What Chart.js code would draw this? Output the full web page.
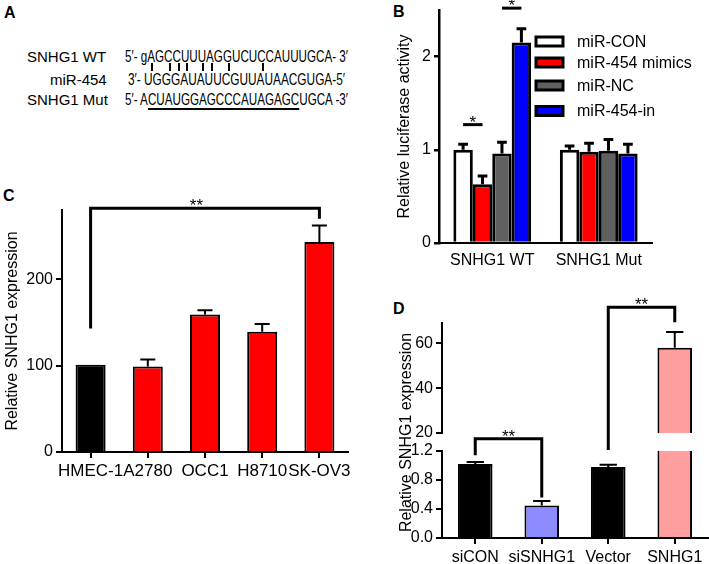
<!DOCTYPE html>
<html>
<head>
<meta charset="utf-8">
<script src="https://cdn.jsdelivr.net/npm/chart.js@4.4.1/dist/chart.umd.min.js"></script>
<style>
  html, body { margin: 0; padding: 0; background: #fff; }
  body { width: 709px; height: 564px; position: relative; overflow: hidden; font-family: "Liberation Sans", Arial, sans-serif; color: #000; }
  canvas { position: absolute; }
  .tag { position: absolute; font-weight: bold; font-size: 16px; line-height: 20px; }
  .lab { position: absolute; font-size: 15px; line-height: 20px; white-space: nowrap; }
  .seq { position: absolute; font-size: 16px; line-height: 20px; white-space: nowrap; transform-origin: 0 50%; }
  .pair { position: absolute; width: 2px; height: 8px; top: 63px; background: #000; }
  .mut { text-decoration: underline; text-decoration-thickness: 1.5px; text-underline-offset: 3px; }
</style>
</head>
<body>
<div class="tag" style="left:4px;top:3px">A</div>
<div class="tag" style="left:393px;top:2px">B</div>
<div class="tag" style="left:3px;top:186px">C</div>
<div class="tag" style="left:393px;top:299px">D</div>

<!-- panel A: sequence alignment -->
<div class="lab" style="left:27px;top:47px">SNHG1 WT</div>
<div class="lab" style="left:50px;top:70px">miR-454</div>
<div class="lab" style="left:27px;top:90px">SNHG1 Mut</div>
<div class="seq" id="seq1" style="left:125px;top:47px">5′- gAGCCUUUAGGUCUCCAUUUGCA- 3′</div>
<div class="seq" id="seq2" style="left:128px;top:70px">3′- UGGGAUAUUCGUUAUAACGUGA-5′</div>
<div class="seq" id="seq3" style="left:125px;top:90px">5′- A<span class="mut">CUAUGGAGCCCAUAGAGC</span>UGCA -3′</div>
<div class="pair" style="left:151px"></div>
<div class="pair" style="left:169px"></div>
<div class="pair" style="left:178px"></div>
<div class="pair" style="left:186px"></div>
<div class="pair" style="left:202px"></div>
<div class="pair" style="left:211px"></div>
<div class="pair" style="left:228px"></div>
<div class="pair" style="left:262px"></div>

<canvas id="cB" width="349" height="280" style="left:360px;top:0px"></canvas>
<canvas id="cC" width="360" height="300" style="left:0px;top:180px"></canvas>
<canvas id="cDlow" width="349" height="284" style="left:360px;top:280px"></canvas>
<canvas id="cDhigh" width="349" height="284" style="left:360px;top:280px"></canvas>

<script>
// panel B: luciferase reporter
const bGroups = ['SNHG1 WT', 'SNHG1 Mut'];
const bSeries = ['miR-CON', 'miR-454 mimics', 'miR-NC', 'miR-454-in'];
const bColors = ['#ffffff', '#ff0000', '#606060', '#0000ff'];
const bMeans = [[1.00, 1.00], [0.63, 0.98], [0.96, 0.99], [2.15, 0.96]];
const bErrs = [[0.06, 0.04], [0.09, 0.09], [0.12, 0.12], [0.15, 0.10]];
const bTicks = [0, 1, 2];
const bSig = [
  { group: 0, from: 0, to: 1, y: 1.27, text: '*' },
  { group: 0, from: 2, to: 3, y: 2.52, text: '*' }
];

// panel C: cell lines
const cLines = ['HMEC-1', 'A2780', 'OCC1', 'H8710', 'SK-OV3'];
const cColors = ['#000000', '#ff0000', '#ff0000', '#ff0000', '#ff0000'];
const cMeans = [101, 99, 159, 139, 243];
const cErrs = [0, 8, 5, 9, 19];
const cTicks = [0, 100, 200];
const cSig = [{ from: 0, to: 4, y: 282, left: 143, right: 270, text: '**', at: 1.85 }];

// panel D: knockdown / overexpression, broken axis
const dGroups = ['siCON', 'siSNHG1', 'Vector', 'SNHG1'];
const dColors = ['#000000', '#8c8cff', '#000000', '#ff9e9e'];
const dMeans = [1.02, 0.45, 0.98, 58];
const dErrs = [0.03, 0.06, 0.03, 7];
const dLowTicks = [0, 0.4, 0.8, 1.2];
const dHighTicks = [20, 40, 60];
const dLowSig = [{ from: 0, to: 1, y: 1.37, left: 1.14, right: 0.56, text: '**' }];
const dHighSig = [{ from: 2, to: 3, y: 76, left: 12.4, right: 69.3, text: '**' }];

const FONT = '"Liberation Sans", Arial, sans-serif';
Chart.defaults.font.family = FONT;
Chart.defaults.font.size = 16;
Chart.defaults.color = '#000';

// squeeze the sequences to the narrow look of the figure
[['seq1', 223], ['seq2', 217], ['seq3', 223]].forEach(([id, w]) => {
  const el = document.getElementById(id);
  el.style.transform = 'scaleX(' + (w / el.getBoundingClientRect().width) + ')';
});

function yAxis(min, max, ticks, width, extra) {
  extra = extra || {};
  const lw = extra.lineWidth || 2;
  const ax = {
    min: min, max: max,
    afterBuildTicks: s => { s.ticks = ticks.map(v => ({ value: v })); },
    afterFit: s => { s.width = width; s.paddingTop = 0; s.paddingBottom = 0; },
    border: { color: '#000', width: lw },
    grid: { drawOnChartArea: false, color: '#000', lineWidth: lw, tickLength: extra.tickLength || 6 },
    ticks: { color: '#000', padding: 3, font: { size: 16 } },
    title: extra.title || { display: false }
  };
  if (extra.format) ax.ticks.callback = extra.format;
  return ax;
}

function xAxis(height, tickLen, pad, size) {
  return {
    offset: true,
    afterFit: s => { s.height = height; s.paddingLeft = 0; s.paddingRight = 0; },
    border: { color: '#000', width: 2 },
    grid: { display: tickLen > 0, offset: false, drawOnChartArea: false, drawTicks: tickLen > 0, tickLength: tickLen, color: '#000', lineWidth: 2 },
    ticks: { color: '#000', padding: pad, font: { size: size || 16 }, maxRotation: 0, minRotation: 0, autoSkip: false }
  };
}

// one-sided error bars on top of each bar
function errorBars(lineWidth) {
  return {
    id: 'errorBars',
    afterDatasetsDraw(chart) {
      const { ctx, chartArea: a } = chart;
      ctx.save();
      ctx.beginPath();
      ctx.rect(a.left, a.top, a.right - a.left, a.bottom - a.top);
      ctx.clip();
      ctx.strokeStyle = '#000';
      ctx.lineWidth = lineWidth;
      chart.data.datasets.forEach((ds, i) => {
        const meta = chart.getDatasetMeta(i);
        const ys = chart.scales[meta.yAxisID];
        meta.data.forEach((bar, j) => {
          const e = ds.errors[j];
          if (!e) return;
          const p = bar.getProps(['x', 'width'], true);
          const y0 = ys.getPixelForValue(ds.data[j]);
          const y1 = ys.getPixelForValue(ds.data[j] + e);
          const half = p.width * 0.25;
          ctx.beginPath();
          ctx.moveTo(p.x, y0);
          ctx.lineTo(p.x, y1);
          ctx.moveTo(p.x - half, y1);
          ctx.lineTo(p.x + half, y1);
          ctx.stroke();
        });
      });
      ctx.restore();
    }
  };
}

// significance brackets with stars
function sigBars(items) {
  return {
    id: 'sigBars',
    afterDraw(chart) {
      const ctx = chart.ctx;
      const xs = chart.scales.x, ys = chart.scales.y;
      const xOf = (it, k) => it.group !== undefined
        ? chart.getDatasetMeta(k).data[it.group].x
        : xs.getPixelForValue(k);
      ctx.save();
      ctx.strokeStyle = '#000';
      ctx.fillStyle = '#000';
      ctx.lineWidth = 3;
      items.forEach(it => {
        const x1 = xOf(it, it.from), x2 = xOf(it, it.to);
        const yt = ys.getPixelForValue(it.y);
        ctx.beginPath();
        if (it.left !== undefined) {
          ctx.moveTo(x1, ys.getPixelForValue(it.left));
          ctx.lineTo(x1, yt);
        } else {
          ctx.moveTo(x1, yt);
        }
        ctx.lineTo(x2, yt);
        if (it.right !== undefined) ctx.lineTo(x2, ys.getPixelForValue(it.right));
        ctx.stroke();
        const tx = it.at !== undefined ? xs.getPixelForValue(it.at) : (x1 + x2) / 2;
        ctx.font = '17px ' + FONT;
        ctx.textAlign = 'center';
        ctx.textBaseline = 'alphabetic';
        ctx.fillText(it.text, tx, yt + 3);
      });
      ctx.restore();
    }
  };
}

// legend boxes of panel B, drawn inside the plot
const boxLegend = {
  id: 'boxLegend',
  afterDraw(chart) {
    const ctx = chart.ctx;
    const rows = [41.5, 62.5, 85.5, 111];
    ctx.save();
    ctx.font = '16px ' + FONT;
    ctx.textBaseline = 'middle';
    ctx.textAlign = 'left';
    chart.data.datasets.forEach((ds, i) => {
      const y = rows[i];
      ctx.fillStyle = ds.backgroundColor;
      ctx.fillRect(176, y - 4.5, 27, 9);
      ctx.strokeStyle = '#000';
      ctx.lineWidth = 3;
      ctx.strokeRect(176, y - 4.5, 27, 9);
      ctx.fillStyle = '#000';
      ctx.fillText(ds.label, 217, y + 1);
    });
    ctx.restore();
  }
};

const dTitle = {
  id: 'dTitle',
  afterDraw(chart) {
    const ctx = chart.ctx;
    ctx.save();
    ctx.translate(47, 152.5);
    ctx.rotate(-Math.PI / 2);
    ctx.font = '16px ' + FONT;
    ctx.fillStyle = '#000';
    ctx.textAlign = 'center';
    ctx.textBaseline = 'middle';
    ctx.fillText('Relative SNHG1 expression', 0, 0);
    ctx.restore();
  }
};

const common = {
  responsive: false,
  animation: false,
  events: [],
  plugins: { legend: { display: false }, tooltip: { enabled: false } }
};

// B
new Chart(document.getElementById('cB'), {
  type: 'bar',
  data: {
    labels: bGroups,
    datasets: bSeries.map((name, i) => ({
      label: name, data: bMeans[i], errors: bErrs[i],
      backgroundColor: bColors[i], borderColor: '#000', borderWidth: 3,
      barPercentage: 1, categoryPercentage: 0.73, clip: 0
    }))
  },
  options: Object.assign({}, common, {
    layout: { padding: { top: 10, right: 57, left: 0, bottom: 0 } },
    scales: {
      x: xAxis(37, 0, 8),
      y: yAxis(0, 2.5, bTicks, 79, {
        lineWidth: 2.5, tickLength: 5,
        title: { display: true, text: 'Relative luciferase activity', font: { size: 16 }, color: '#000', padding: { top: 35, bottom: 0 } }
      })
    }
  }),
  plugins: [errorBars(3), sigBars(bSig), boxLegend]
});

// C
new Chart(document.getElementById('cC'), {
  type: 'bar',
  data: {
    labels: cLines,
    datasets: [{
      data: cMeans, errors: cErrs,
      backgroundColor: cColors, borderColor: '#000', borderWidth: 2,
      barPercentage: 0.525, categoryPercentage: 1, clip: 0
    }]
  },
  options: Object.assign({}, common, {
    layout: { padding: { top: 30, right: 12, left: 0, bottom: 0 } },
    scales: {
      x: xAxis(28, 6, 3, 17),
      y: yAxis(0, 280, cTicks, 62, {
        title: { display: true, text: 'Relative SNHG1 expression', font: { size: 16 }, color: '#000', padding: { top: 3, bottom: 0 } }
      })
    }
  }),
  plugins: [errorBars(2), sigBars(cSig)]
});

// D lower segment (0 - 1.2)
new Chart(document.getElementById('cDlow'), {
  type: 'bar',
  data: {
    labels: dGroups,
    datasets: [{
      data: dMeans, errors: dErrs,
      backgroundColor: dColors, borderColor: '#000', borderWidth: 2,
      barPercentage: 0.52, categoryPercentage: 1, clip: 0
    }]
  },
  options: Object.assign({}, common, {
    layout: { padding: { top: 171, right: 1, left: 0, bottom: 0 } },
    scales: {
      x: xAxis(26, 6, 4),
      y: yAxis(0, 1.2, dLowTicks, 82, { format: v => v.toFixed(1) })
    }
  }),
  plugins: [errorBars(2), sigBars(dLowSig), dTitle]
});

// D upper segment (20 - 69)
new Chart(document.getElementById('cDhigh'), {
  type: 'bar',
  data: {
    labels: dGroups,
    datasets: [{
      data: dMeans, errors: dErrs,
      backgroundColor: dColors, borderColor: '#000', borderWidth: 2,
      barPercentage: 0.52, categoryPercentage: 1, clip: 0
    }]
  },
  options: Object.assign({}, common, {
    layout: { padding: { top: 43, right: 1, left: 0, bottom: 131 } },
    scales: {
      x: Object.assign(xAxis(0, 0, 0), { display: false }),
      y: yAxis(20, 69, dHighTicks, 82)
    }
  }),
  plugins: [errorBars(2), sigBars(dHighSig)]
});
</script>
</body>
</html>
